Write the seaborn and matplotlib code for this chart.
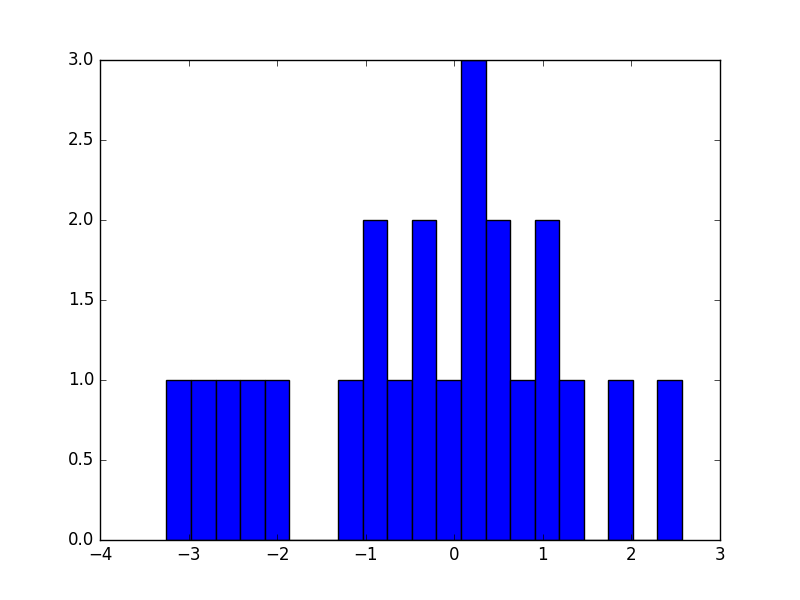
import numpy as np
import pandas as pd
import seaborn as sns
import matplotlib
matplotlib.use("Agg")
import matplotlib.pyplot as plt

# histogram counts, 21 equal bins
bin_counts = [1, 1, 1, 1, 1, 0, 0, 1, 2, 1, 2, 1, 3, 2, 1, 2, 1, 0, 1, 0, 1]
bin_low = -3.25
bin_high = 2.57

plt.style.use('classic')

edges = np.linspace(bin_low, bin_high, len(bin_counts) + 1)
centers = (edges[:-1] + edges[1:]) / 2
df = pd.DataFrame({'value': centers, 'count': bin_counts})

fig, ax = plt.subplots(figsize=(8, 6), dpi=100)
fig.patch.set_facecolor('white')
sns.histplot(data=df, x='value', weights='count', bins=len(bin_counts),
             binrange=(bin_low, bin_high), color='blue', alpha=1,
             edgecolor='black', linewidth=1, ax=ax)
ax.set_xlim(-4, 3)
ax.set_ylim(0, 3)
ax.set_yticks(np.arange(0, 3.01, 0.5))
ax.set_xlabel('')
ax.set_ylabel('')
fig.subplots_adjust(left=0.125, right=0.9, bottom=0.1, top=0.9)
fig.savefig('out.png', dpi=100, facecolor='white')
